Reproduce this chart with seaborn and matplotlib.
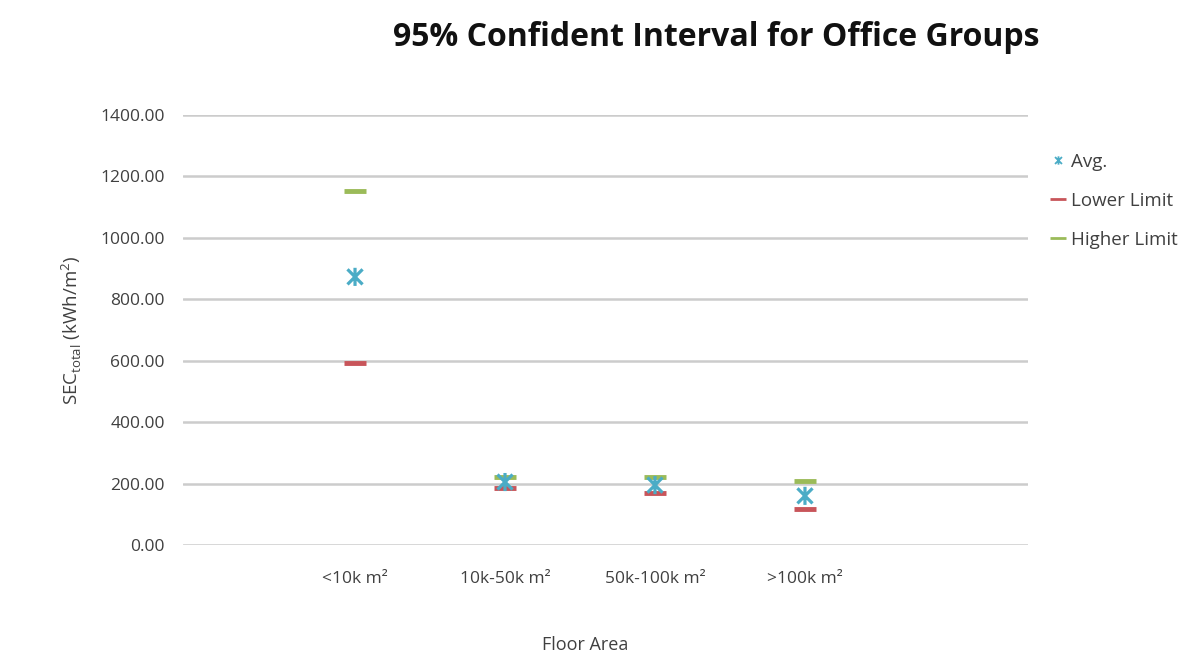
import numpy as np
import pandas as pd
import matplotlib
matplotlib.use("Agg")
import matplotlib.pyplot as plt
import matplotlib.transforms as mtransforms
from matplotlib.path import Path
import seaborn as sns
from matplotlib.lines import Line2D

categories = ["<10k m²", "10k-50k m²", "50k-100k m²", ">100k m²"]
avg_values = [873, 205, 195, 160]
lower_values = [592, 185, 170, 118]
higher_values = [1152, 220, 220, 208]
y_ticks = [0, 200, 400, 600, 800, 1000, 1200, 1400]

sns.set_theme(style="white")
plt.rcParams['font.family'] = ['Open Sans', 'DejaVu Sans']

# Excel-like "star" marker: an X with a vertical stroke
star = Path([(-1, -1), (1, 1), (-1, 1), (1, -1), (0, -1.2), (0, 1.2)],
            [Path.MOVETO, Path.LINETO, Path.MOVETO, Path.LINETO,
             Path.MOVETO, Path.LINETO])

fig = plt.figure(figsize=(11.99, 6.55), dpi=100)
ax = fig.add_axes([183/1199, 1-545/655, (1028-183)/1199, (545-115)/655])

x = np.arange(len(categories))
df = pd.DataFrame({"x": x, "Avg.": avg_values, "Lower Limit": lower_values,
                   "Higher Limit": higher_values})

c_avg = "#4BACC6"
c_low = "#C8555A"
c_high = "#9BBB59"

sns.scatterplot(data=df, x="x", y="Higher Limit", marker="_", s=230,
                color=c_high, linewidth=3.5, ax=ax, zorder=3)
sns.scatterplot(data=df, x="x", y="Lower Limit", marker="_", s=230,
                color=c_low, linewidth=3.5, ax=ax, zorder=3)
sns.scatterplot(data=df, x="x", y="Avg.", marker=star, s=170,
                facecolor="none", edgecolor=c_avg, linewidth=2.3, ax=ax, zorder=4)

ax.set_ylim(0, 1400)
ax.set_xlim(-1.147, 4.487)
ax.set_yticks(y_ticks)
ax.set_yticklabels([f"{v:.2f}" for v in y_ticks], fontsize=12.5, color="#404040")
ax.set_xticks(x)
ax.set_xticklabels(categories, fontsize=12.5, color="#404040")
offset = mtransforms.ScaledTranslation(-22/100, 0, fig.dpi_scale_trans)
for lab in ax.get_xticklabels():
    lab.set_transform(lab.get_transform() + offset)
ax.tick_params(axis="x", length=0, pad=19)
ax.tick_params(axis="y", length=0, pad=13)
ax.grid(axis="y", color="#CCCCCC", linewidth=1.8)
ax.set_axisbelow(True)
for s in ax.spines.values():
    s.set_visible(False)
ax.set_xlabel("")
ax.set_ylabel(r"SEC$_{\mathregular{total}}$ (kWh/m$^{\mathregular{2}}$)",
              fontsize=13.5, color="#404040", labelpad=12)

fig.text(716/1199, 1-38/655, "95% Confident Interval for Office Groups",
         ha="center", va="center", fontsize=23, fontweight="bold", color="#111111")
fig.text(585/1199, 1-645/655, "Floor Area", ha="center", va="center",
         fontsize=13, color="#404040")

handles = [
    Line2D([], [], linestyle="none", marker=star, markersize=6,
           markerfacecolor="none", markeredgecolor=c_avg, markeredgewidth=1.3),
    Line2D([], [], linestyle="none", marker="_", markersize=11,
           color=c_low, markeredgewidth=2),
    Line2D([], [], linestyle="none", marker="_", markersize=11,
           color=c_high, markeredgewidth=2),
]
fig.legend(handles, ["Avg.", "Lower Limit", "Higher Limit"],
           loc="upper left", bbox_to_anchor=(1050/1199, 1-153/655),
           frameon=False, fontsize=13.5, handlelength=0.8, handletextpad=0.3,
           labelspacing=1.12, labelcolor="#404040", borderpad=0, borderaxespad=0)

fig.savefig("out.png", dpi=100, facecolor="white")
